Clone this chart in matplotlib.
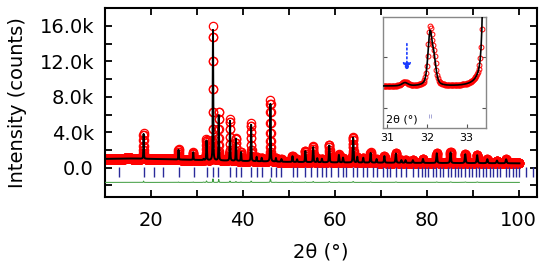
import numpy as np
import matplotlib
matplotlib.use('Agg')
import matplotlib.pyplot as plt
from matplotlib.ticker import MultipleLocator, FuncFormatter

plt.rcParams['font.family'] = 'DejaVu Sans'

# background anchor points (2theta, counts)
bg_x = [10, 15, 20, 30, 40, 50, 60, 80, 100.2]
bg_y = [1000, 1050, 1000, 880, 760, 660, 600, 540, 500]

# reflections: position, calculated height, observed height (counts above background)
peak_pos = [18.4, 26.0, 29.2, 31.45, 32.08, 32.18, 33.5, 34.75, 37.2, 38.5, 39.6,
            41.8, 43.0, 44.1, 46.0, 47.2, 48.4, 50.8, 51.8, 53.6, 55.3, 56.2, 57.2,
            58.8, 60.9, 61.8, 64.0, 64.9, 66.2, 67.8, 69.1, 70.8, 73.3, 74.5, 75.4,
            77.0, 79.2, 82.2, 85.2, 88.4, 91.0, 93.2, 95.3, 97.3]
calc_h = [2800, 1100, 850, 130, 2000, 900, 14700, 5200, 4500, 2500, 1000,
          4100, 500, 400, 6500, 400, 300, 650, 300, 1250, 1700, 450, 400,
          1900, 850, 550, 2800, 650, 550, 1100, 400, 750, 1050, 300, 300,
          300, 450, 1100, 1200, 1000, 900, 450, 300, 450]
obs_h = [2950, 1150, 900, 170, 2150, 950, 15100, 5550, 4650, 2600, 1050,
         4250, 500, 400, 6900, 420, 300, 700, 300, 1300, 1800, 450, 400,
         2000, 900, 550, 2900, 650, 550, 1150, 400, 750, 1100, 300, 300,
         300, 450, 1150, 1250, 1050, 950, 450, 300, 450]

# Bragg reflection markers
bragg = [13.0, 18.5, 20.7, 22.7, 26.1, 29.3, 32.1, 33.4, 34.6, 37.2, 38.5, 39.6,
         41.7, 43.0, 44.1, 46.1, 47.2, 48.4, 50.9, 51.8, 53.5, 54.9, 56.1, 57.2,
         58.2, 59.1, 60.7, 61.8, 62.4, 64.0, 64.9, 66.2, 67.1, 68.3, 69.1, 70.5,
         71.3, 72.0, 73.4, 74.5, 75.4, 77.0, 78.1, 79.0, 79.6, 80.3, 81.4, 82.1,
         82.8, 83.5, 84.6, 85.4, 86.1, 86.8, 87.5, 88.3, 89.2, 89.9, 90.7, 91.5,
         92.2, 93.0, 93.7, 94.4, 95.3, 96.0, 97.2, 97.9, 98.8, 99.5, 100.2, 101.7,
         103.1]
inset_bragg = [32.05, 32.1]

diff_offset = -1650
bragg_y = -450

tt = np.arange(10.0, 100.2, 0.02)
bg = np.interp(tt, bg_x, bg_y)


def profile(heights):
    # pseudo-Voigt peaks on top of the background
    y = bg.copy()
    for p, h in zip(peak_pos, heights):
        w = 0.12 + 0.002 * max(p - 30, 0)
        if p == 31.45:
            w = 0.18
        g = w / 2
        lor = g**2 / (g**2 + (tt - p)**2)
        gau = np.exp(-4 * np.log(2) * (tt - p)**2 / w**2)
        y += h * (0.5 * lor + 0.5 * gau)
    return y


y_obs = profile(obs_h)
y_calc = profile(calc_h)
y_diff = y_obs - y_calc + diff_offset

fig = plt.figure(figsize=(5.44, 2.71), dpi=100)
ax = fig.add_axes([0.193, 0.273, 0.794, 0.697])

ax.plot(tt, y_obs, 'o', mfc='none', mec='#ff0000', ms=6, mew=0.9, zorder=2)
ax.plot(tt, y_calc, color='black', lw=1.4, zorder=3)
ax.plot(tt, y_diff, color='#3a9a3a', lw=0.7, zorder=3)
ax.plot(bragg, [bragg_y] * len(bragg), '|', color='#2a2a9a', ms=6.5, mew=1.0, zorder=3)

ax.set_xlim(10, 104)
ax.set_ylim(-3300, 18000)
ax.xaxis.set_major_locator(MultipleLocator(10))
ax.yaxis.set_major_locator(MultipleLocator(2000))
ax.xaxis.set_major_formatter(FuncFormatter(lambda v, p: f'{v:.0f}' if round(v) % 20 == 0 else ''))


def kfmt(v, p):
    if round(v) % 4000 != 0:
        return ''
    if round(v) == 0:
        return '0.0'
    return f'{v / 1000:.1f}k'


ax.yaxis.set_major_formatter(FuncFormatter(kfmt))
ax.tick_params(direction='in', length=5, width=1.3, top=True, right=True,
               labelsize=14, pad=8)
ax.tick_params(axis='x', pad=10)
for s in ax.spines.values():
    s.set_linewidth(1.5)
ax.set_xlabel('2θ (°)', fontsize=14, labelpad=9)
ax.set_ylabel('Intensity (counts)', fontsize=14)
ax.yaxis.set_label_coords(-0.18, 0.5)

# inset
axi = fig.add_axes([0.704, 0.528, 0.189, 0.409])
axi.plot(tt, y_obs, 'o', mfc='none', mec='#ff0000', ms=3.5, mew=0.7, zorder=2)
axi.plot(tt, y_calc, color='black', lw=1.2, zorder=3)
axi.plot(inset_bragg, [-300] * len(inset_bragg), '|', color='#9898d0', ms=3, mew=0.6)
axi.set_xlim(30.9, 33.48)
axi.set_ylim(-770, 3590)
axi.set_xticks([31, 32, 33])
axi.set_yticks([0, 2000])
axi.set_yticklabels([])
axi.tick_params(direction='in', length=3, width=0.8, right=True, labelsize=8,
                pad=4, color='#555555')
for s in axi.spines.values():
    s.set_color('#888888')
    s.set_linewidth(1.0)
axi.text(0.03, 0.03, '2θ (°)', transform=axi.transAxes, fontsize=8,
         ha='left', va='bottom')
axi.annotate('', xy=(31.5, 1350), xytext=(31.5, 2650),
             arrowprops=dict(arrowstyle='-|>', color='#1a3cff', lw=1.2,
                             linestyle=':', mutation_scale=12))

fig.savefig('out.png', dpi=100)
